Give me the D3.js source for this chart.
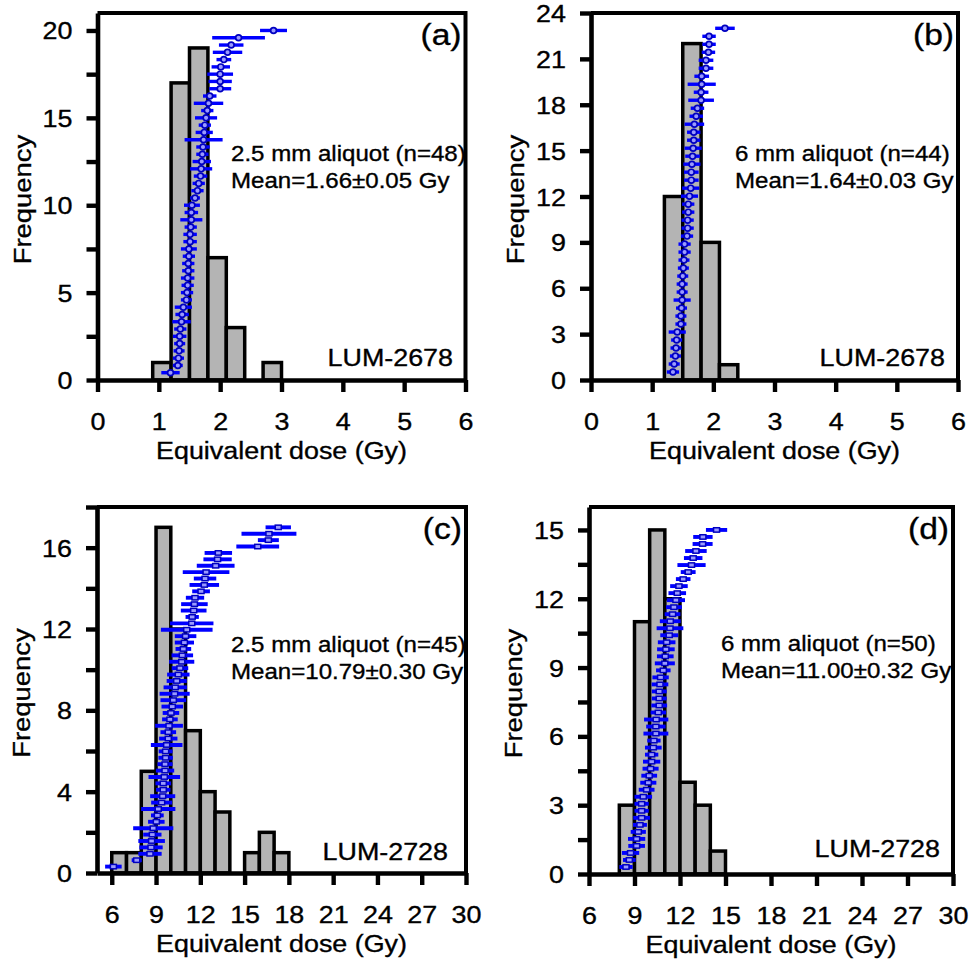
<!DOCTYPE html>
<html>
<head>
<meta charset="utf-8">
<script src="https://cdn.jsdelivr.net/npm/d3@7"></script>
<style>
  body { margin: 0; background: #fff; }
  svg { display: block; font-family: "Liberation Sans", Arial, sans-serif; }
  svg text { stroke: #000; stroke-width: 0.35px; }
</style>
</head>
<body>
<svg id="chart" width="971" height="960"></svg>
<script>
/* histogram bins (edges) and counts */
const edgesA = [0.9, 1.2, 1.5, 1.8, 2.1, 2.4, 2.7, 3.0];
const countsA = [1, 17, 19, 7, 3, 0, 1];
const edgesB = [1.2, 1.5, 1.8, 2.1, 2.4];
const countsB = [12, 22, 9, 1];
const edgesC = [6, 7, 8, 9, 10, 11, 12, 13, 14, 15, 16, 17, 18];
const countsC = [1, 1, 5, 17, 12, 7, 4, 3, 0, 1, 2, 1];
const edgesD = [8, 9, 10, 11, 12, 13, 14, 15];
const countsD = [3, 11, 15, 12, 4, 3, 1];

/* sorted De values and 1-sigma errors (Gy) */
const deA = [1.19, 1.31, 1.32, 1.33, 1.34, 1.34, 1.35, 1.37, 1.38, 1.40, 1.45, 1.46, 1.47, 1.47, 1.48, 1.48,
  1.49, 1.49, 1.51, 1.51, 1.52, 1.53, 1.53, 1.54, 1.59, 1.63, 1.65, 1.68, 1.69, 1.70, 1.71, 1.72,
  1.73, 1.74, 1.75, 1.77, 1.79, 1.81, 1.83, 2.00, 2.00, 2.00, 2.01, 2.06, 2.12, 2.18, 2.30, 2.87];
const errA = [0.15, 0.08, 0.09, 0.09, 0.09, 0.11, 0.10, 0.15, 0.11, 0.14, 0.09, 0.10, 0.10, 0.11, 0.10, 0.10,
  0.10, 0.13, 0.11, 0.11, 0.10, 0.18, 0.11, 0.13, 0.08, 0.10, 0.10, 0.11, 0.18, 0.15, 0.10, 0.11,
  0.31, 0.14, 0.10, 0.18, 0.10, 0.24, 0.11, 0.18, 0.19, 0.21, 0.15, 0.12, 0.24, 0.20, 0.43, 0.22];

const deB = [1.34, 1.36, 1.38, 1.39, 1.40, 1.41, 1.47, 1.47, 1.48, 1.49, 1.49, 1.49, 1.50, 1.51, 1.52,
  1.53, 1.53, 1.57, 1.58, 1.58, 1.59, 1.59, 1.61, 1.63, 1.64, 1.64, 1.65, 1.66, 1.67, 1.68,
  1.68, 1.69, 1.72, 1.74, 1.80, 1.80, 1.81, 1.81, 1.88, 1.88, 1.92, 1.93, 1.93, 2.19];
const errB = [0.10, 0.09, 0.09, 0.09, 0.09, 0.14, 0.09, 0.09, 0.09, 0.14, 0.09, 0.09, 0.09, 0.09, 0.09,
  0.10, 0.10, 0.10, 0.10, 0.10, 0.10, 0.10, 0.14, 0.14, 0.12, 0.12, 0.14, 0.12, 0.14, 0.11,
  0.11, 0.16, 0.11, 0.11, 0.21, 0.12, 0.23, 0.12, 0.12, 0.12, 0.11, 0.11, 0.11, 0.16];

const deC = [6.11, 7.69, 8.59, 8.66, 8.70, 8.75, 8.81, 9.02, 9.09, 9.15, 9.38, 9.45, 9.49, 9.49, 9.56,
  9.61, 9.61, 9.65, 9.65, 9.72, 9.83, 9.83, 9.88, 9.94, 10.01, 10.10, 10.17, 10.26, 10.30, 10.40,
  10.51, 10.62, 10.74, 10.78, 10.85, 10.92, 11.00, 11.08, 11.42, 11.45, 11.55, 11.60, 11.64, 12.05,
  12.27, 12.32, 12.39, 13.04, 13.17, 13.22, 15.89, 16.61, 16.65, 17.28];
const errC = [0.56, 0.34, 0.79, 0.79, 0.90, 0.62, 1.36, 0.56, 0.43, 1.16, 0.71, 0.85, 0.49, 0.53, 1.07,
  0.62, 0.51, 0.49, 0.47, 1.07, 0.62, 0.53, 0.94, 0.53, 0.56, 0.73, 0.87, 1.02, 0.79, 0.68,
  0.76, 0.56, 0.85, 0.73, 0.53, 0.65, 0.73, 1.75, 1.47, 0.45, 0.87, 0.90, 0.62, 0.60,
  1.00, 0.76, 1.58, 1.28, 0.96, 0.93, 1.45, 0.71, 1.86, 0.86];

const deD = [8.44, 8.66, 8.74, 9.14, 9.14, 9.25, 9.36, 9.47, 9.47, 9.47, 9.58, 9.80, 9.91, 9.97, 10.06,
  10.13, 10.13, 10.24, 10.28, 10.41, 10.41, 10.43, 10.57, 10.63, 10.63, 10.63, 10.68, 10.72, 10.90,
  11.00, 11.03, 11.07, 11.12, 11.29, 11.34, 11.36, 11.51, 11.60, 11.73, 11.82, 11.93, 12.21, 12.54,
  12.76, 12.87, 13.05, 13.49, 13.51, 14.41];
const errD = [0.44, 0.42, 0.57, 0.55, 0.57, 0.50, 0.46, 0.55, 0.47, 0.47, 0.58, 0.52, 0.53, 0.52, 0.53,
  0.57, 0.44, 0.55, 0.44, 0.82, 0.64, 0.80, 0.51, 0.52, 0.49, 0.49, 0.55, 0.54, 0.48,
  0.66, 0.55, 0.58, 0.58, 0.59, 0.88, 0.69, 0.52, 0.52, 0.60, 0.58, 0.58, 0.48, 0.49,
  0.93, 0.61, 0.71, 0.66, 0.64, 0.70];

/* frequency at which the highest-ranked point is drawn */
const rankTop = [20, 23, 17, 15];

/* axes */
const xTicksAB = [0, 1, 2, 3, 4, 5, 6];
const xTicksCD = [6, 9, 12, 15, 18, 21, 24, 27, 30];
const yTicksA = [0, 2.5, 5, 7.5, 10, 12.5, 15, 17.5, 20];
const yLabelsA = [0, 5, 10, 15, 20];
const yTicksB = [0, 3, 6, 9, 12, 15, 18, 21, 24];
const yLabelsB = yTicksB;
const yTicksC = [0, 2, 4, 6, 8, 10, 12, 14, 16, 18];
const yLabelsC = [0, 4, 8, 12, 16];
const yTicksD = [0, 1.5, 3, 4.5, 6, 7.5, 9, 10.5, 12, 13.5, 15];
const yLabelsD = [0, 3, 6, 9, 12, 15];

const panelLabels = ['(a)', '(b)', '(c)', '(d)'];
const aliquotText = ['2.5 mm aliquot (n=48)', '6 mm aliquot (n=44)', '2.5 mm aliquot (n=45)', '6 mm aliquot (n=50)'];
const meanText = ['Mean=1.66\u00b10.05 Gy', 'Mean=1.64\u00b10.03 Gy', 'Mean=10.79\u00b10.30 Gy', 'Mean=11.00\u00b10.32 Gy'];
const sampleText = ['LUM-2678', 'LUM-2678', 'LUM-2728', 'LUM-2728'];

const BLUE = '#0000ff';
const SX = 1.12; // figure is a bit wider than tall

const svg = d3.select('#chart');

function addText (g, x, y, str, size, anchor, rotate = 0) {
    return g.append('text')
        .attr('transform', `translate(${x},${y}) rotate(${rotate}) scale(${SX},1)`)
        .attr('text-anchor', anchor)
        .style('font-size', size + 'px')
        .attr('fill', '#000')
        .text(str);
}

const panels = [
    { box: [97.5, 465.5, 13, 380], xDom: [0, 6], yDom: [0, 21], xTicks: xTicksAB, yTicks: yTicksA, yLabels: yLabelsA,
      edges: edgesA, counts: countsA, de: deA, err: errA, mark: 'circle', textX: 231, textY: 161, lum: [453, 366], lw: 3.4 },
    { box: [591, 958, 13, 380], xDom: [0, 6], yDom: [0, 24], xTicks: xTicksAB, yTicks: yTicksB, yLabels: yLabelsB,
      edges: edgesB, counts: countsB, de: deB, err: errB, mark: 'circle', textX: 735, textY: 161, lum: [945, 366], lw: 3.4 },
    { box: [97, 466, 507, 873], xDom: [5, 30], yDom: [0, 18], xTicks: xTicksCD, yTicks: yTicksC, yLabels: yLabelsC,
      edges: edgesC, counts: countsC, de: deC, err: errC, mark: 'rect', textX: 231, textY: 652, lum: [448, 860], lw: 3.9 },
    { box: [589, 953, 507, 874], xDom: [6, 30], yDom: [0, 16], xTicks: xTicksCD, yTicks: yTicksD, yLabels: yLabelsD,
      edges: edgesD, counts: countsD, de: deD, err: errD, mark: 'rect', textX: 721, textY: 651, lum: [940, 857], lw: 3.9 }
];

panels.forEach((p, k) => {
    const [l, r, t, b] = p.box;
    const g = svg.append('g');
    const x = d3.scaleLinear(p.xDom, [l, r]);
    const y = d3.scaleLinear(p.yDom, [b, t]);
    const rank = d3.scaleLinear([0, p.de.length], [0, rankTop[k]]);

    // histogram bars
    const bins = p.counts.map((c, i) => ({ x0: p.edges[i], x1: p.edges[i + 1], n: c })).filter(d => d.n > 0);
    g.append('g').selectAll('rect')
        .data(bins)
        .join('rect')
            .attr('x', d => x(d.x0))
            .attr('width', d => x(d.x1) - x(d.x0))
            .attr('y', d => y(d.n))
            .attr('height', d => y(0) - y(d.n))
            .attr('fill', '#b4b4b4')
            .attr('stroke', '#000')
            .attr('stroke-width', 3.5);

    // frame (top + right)
    g.append('path')
        .attr('d', `M${l},${t}H${r}V${b}`)
        .attr('fill', 'none')
        .attr('stroke', '#000')
        .attr('stroke-width', 4);

    // axes
    const xAxis = g.append('g')
        .attr('transform', `translate(0,${b})`)
        .call(d3.axisBottom(x).tickValues(p.xTicks).tickSize(12).tickSizeOuter(0).tickFormat(d3.format('d')));
    const yAxis = g.append('g')
        .attr('transform', `translate(${l},0)`)
        .call(d3.axisLeft(y).tickValues(p.yTicks).tickSize(11).tickSizeOuter(0)
            .tickFormat(d => p.yLabels.includes(d) ? d : ''));

    [xAxis, yAxis].forEach(ax => {
        ax.select('.domain').attr('stroke-width', 4.6).attr('stroke', '#000');
        ax.selectAll('.tick line').attr('stroke-width', 4.4).attr('stroke', '#000');
    });
    xAxis.selectAll('.tick text')
        .attr('y', null).attr('dy', null)
        .attr('transform', `translate(0,50) scale(${SX},1)`)
        .style('font-size', '24px').style('font-family', 'inherit').attr('fill', '#000');
    yAxis.selectAll('.tick text')
        .attr('x', null).attr('dy', null)
        .attr('transform', `translate(-25,8.5) scale(${SX},1)`)
        .style('font-size', '24px').style('font-family', 'inherit').attr('fill', '#000');

    // axis titles
    addText(g, (l + r) / 2, b + 79, 'Equivalent dose (Gy)', 24, 'middle');
    addText(g, l - 67, (t + b) / 2 + 3, 'Frequency', 24.5, 'middle', -90);

    // error bars on sorted De
    const pts = p.de.map((d, i) => ({ de: d, e: p.err[i], r: i + 1 }));
    const eb = g.append('g');
    eb.selectAll('line')
        .data(pts)
        .join('line')
            .attr('x1', d => x(d.de - d.e))
            .attr('x2', d => x(d.de + d.e))
            .attr('y1', d => y(rank(d.r)))
            .attr('y2', d => y(rank(d.r)))
            .attr('stroke', BLUE)
            .attr('stroke-width', p.lw);
    if (p.mark === 'circle') {
        eb.selectAll('circle')
            .data(pts)
            .join('circle')
                .attr('cx', d => x(d.de))
                .attr('cy', d => y(rank(d.r)))
                .attr('r', 2.9)
                .attr('fill', '#9a9aff')
                .attr('stroke', '#0000c0')
                .attr('stroke-width', 1.7);
    } else {
        eb.selectAll('rect')
            .data(pts)
            .join('rect')
                .attr('x', d => x(d.de) - 3)
                .attr('y', d => y(rank(d.r)) - 2.2)
                .attr('width', 6)
                .attr('height', 4.4)
                .attr('fill', '#9a9aff')
                .attr('stroke', '#0000c0')
                .attr('stroke-width', 1.5);
    }

    // annotations
    addText(g, p.textX, p.textY, aliquotText[k], 21.5, 'start');
    addText(g, p.textX, p.textY + 26.5, meanText[k], 21.5, 'start');
    addText(g, p.lum[0], p.lum[1], sampleText[k], 24, 'end');
    addText(g, r - 4, t + 32, panelLabels[k], 30, 'end');
});
</script>
</body>
</html>
